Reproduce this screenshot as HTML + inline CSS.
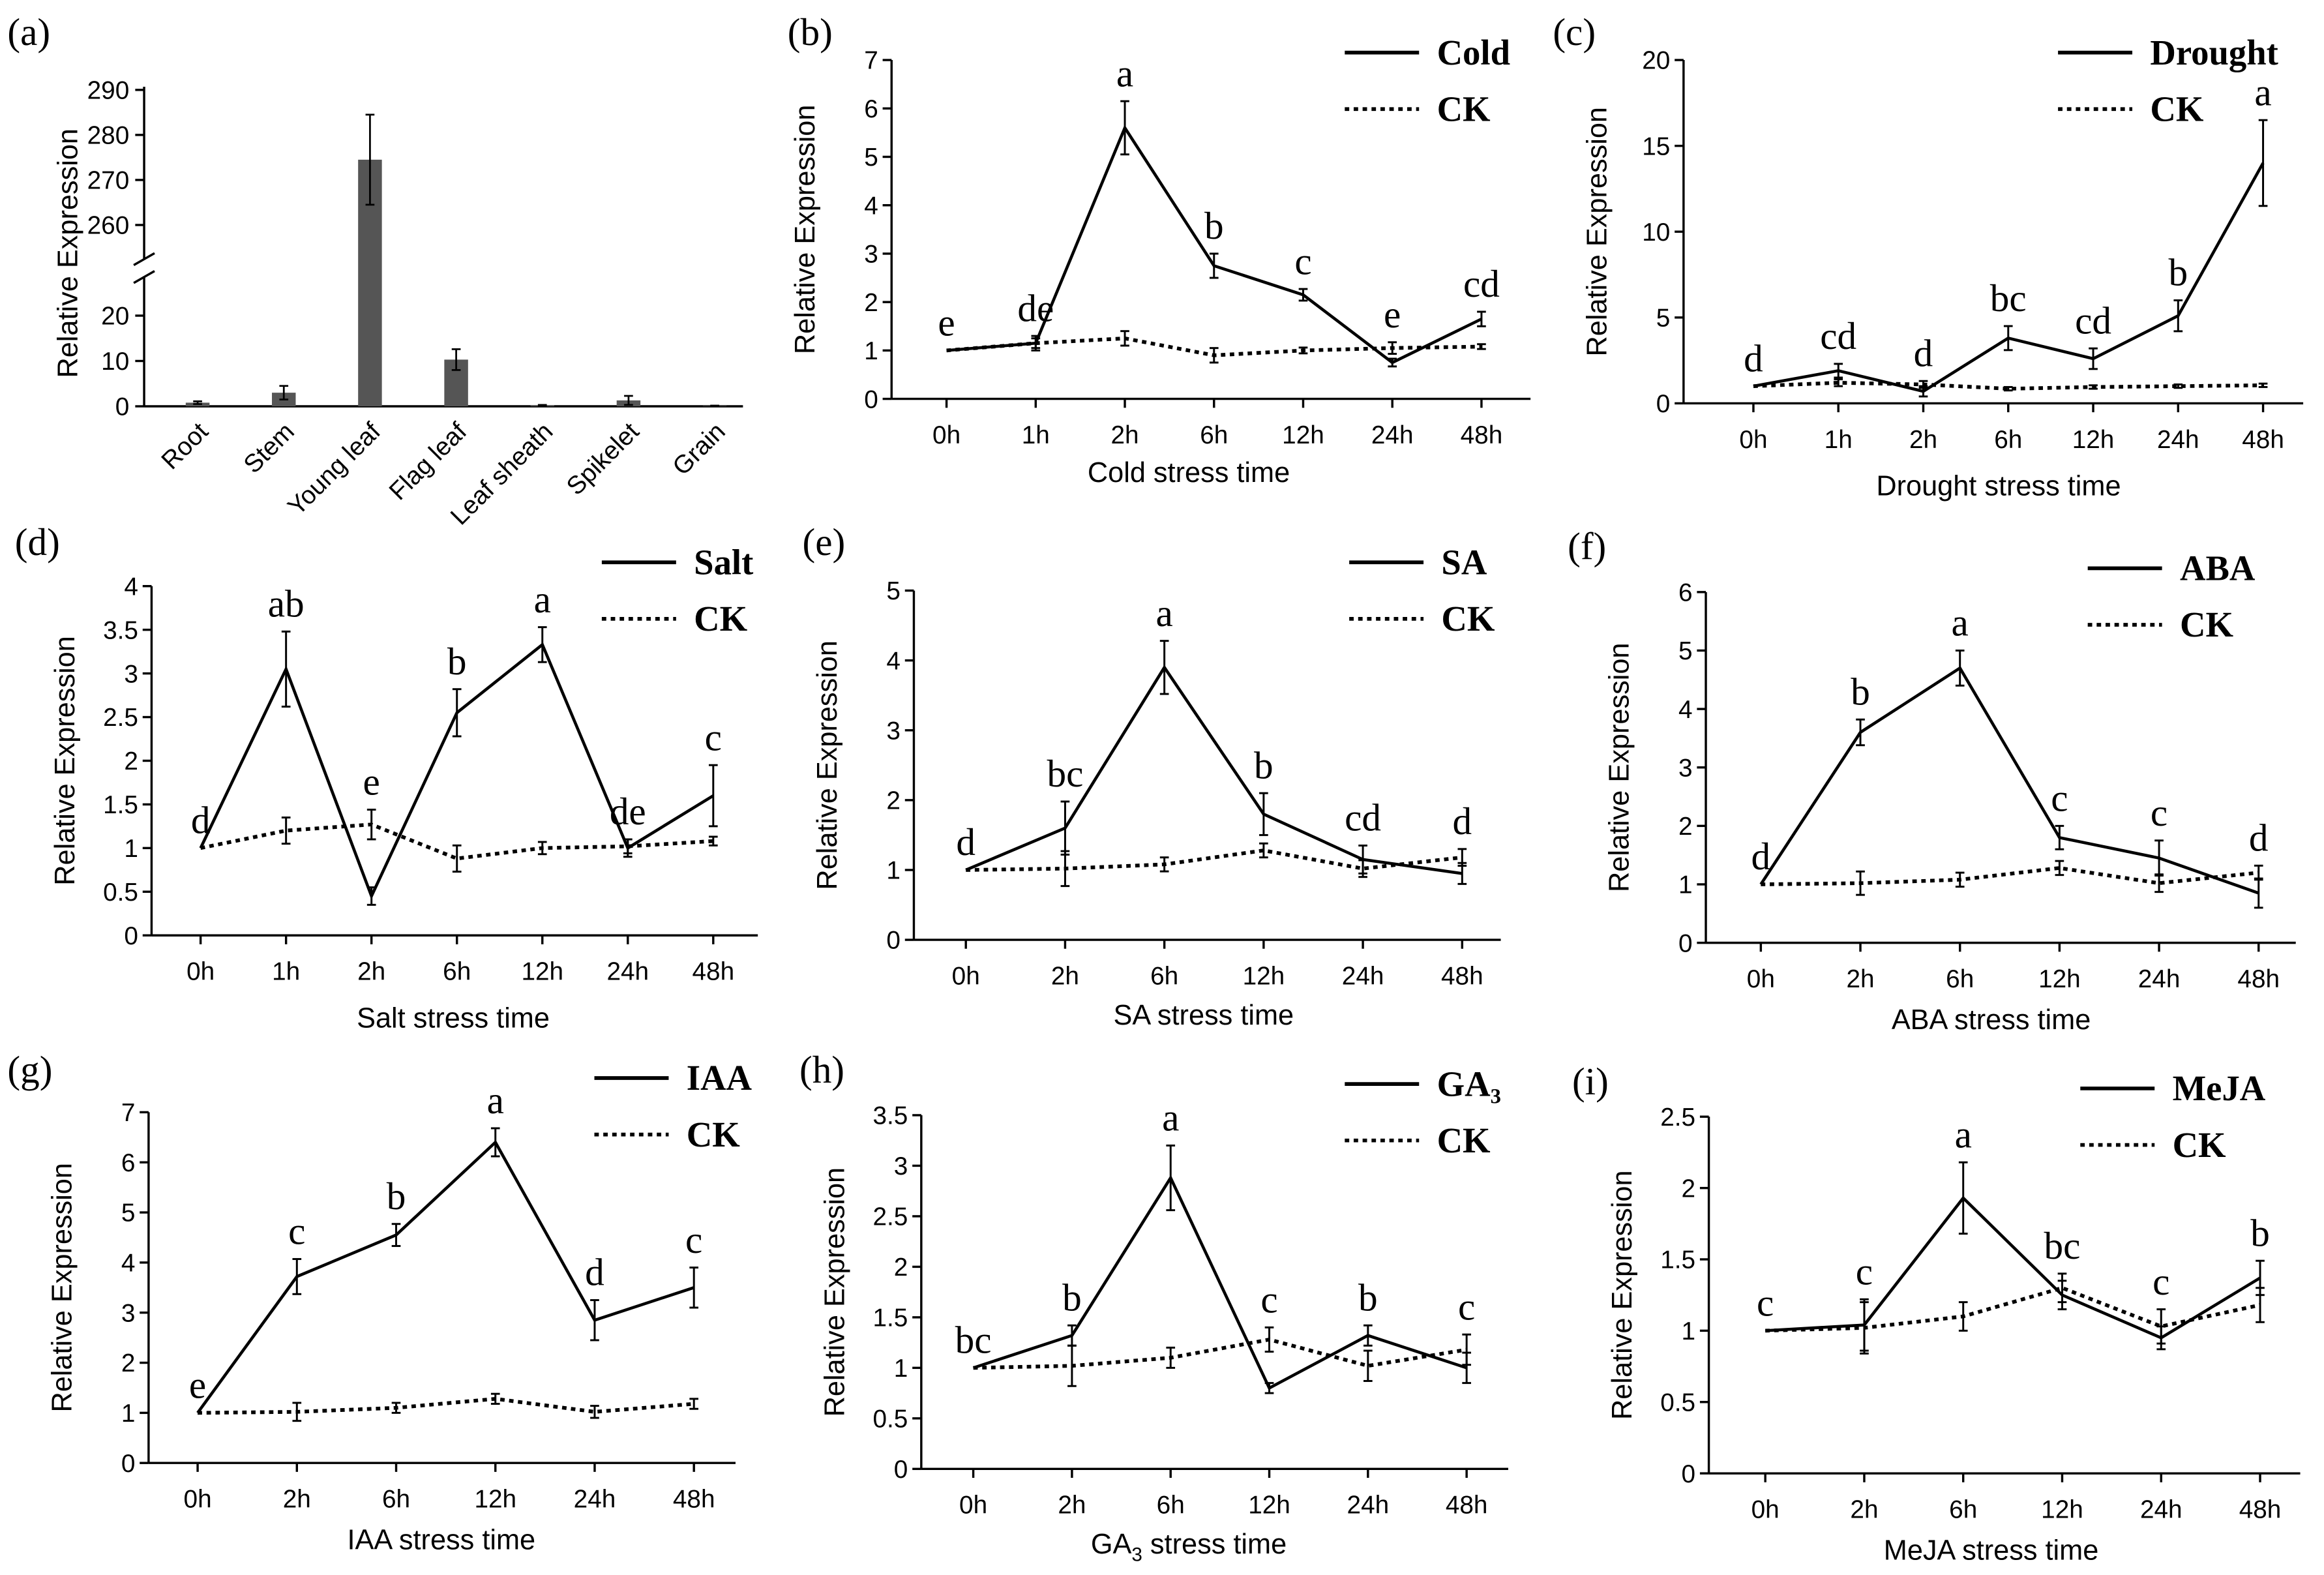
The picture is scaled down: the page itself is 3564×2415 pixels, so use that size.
<!DOCTYPE html>
<html><head><meta charset="utf-8"><style>
html,body{margin:0;padding:0;background:#fff}
svg{display:block}
text{fill:#000}
.tk{font-family:"Liberation Sans",sans-serif;font-size:17px}
.yt{font-family:"Liberation Sans",sans-serif;font-size:19px}
.lt{font-family:"Liberation Serif",serif;font-size:26px}
.pl{font-family:"Liberation Serif",serif;font-size:26px}
.lg{font-family:"Liberation Serif",serif;font-size:24px;font-weight:bold}
</style></head><body>
<svg id="fig" xmlns="http://www.w3.org/2000/svg" width="3564" height="2415" viewBox="0 0 1564 1059"></svg>
<script>
// ---- Panel (a) data ----
const tissueCats = ["Root","Stem","Young leaf","Flag leaf","Leaf sheath","Spikelet","Grain"];
const tissueVals = [0.8,3.0,274.5,10.3,0.2,1.3,0.1];
const tissueErr = [0.3,1.5,10,2.3,0.1,1.0,0.05];
// ---- Cold ----
const coldCats = ["0h","1h","2h","6h","12h","24h","48h"];
const coldTreat = [1,1.15,5.6,2.75,2.15,0.75,1.65];
const coldTreatErr = [0,0.1,0.55,0.25,0.12,0.08,0.15];
const coldCK = [1,1.15,1.25,0.9,1.0,1.05,1.08];
const coldCKErr = [0,0.15,0.15,0.15,0.06,0.12,0.05];
const coldLetters = ["e","de","a","b","c","e","cd"];
const coldTicks = [0,1,2,3,4,5,6,7];
// ---- Drought ----
const droughtCats = ["0h","1h","2h","6h","12h","24h","48h"];
const droughtTreat = [1,1.9,0.7,3.8,2.6,5.1,14];
const droughtTreatErr = [0,0.4,0.3,0.7,0.6,0.9,2.5];
const droughtCK = [1,1.2,1.1,0.85,0.95,1.0,1.05];
const droughtCKErr = [0,0.2,0.2,0.1,0.1,0.1,0.1];
const droughtLetters = ["d","cd","d","bc","cd","b","a"];
const droughtTicks = [0,5,10,15,20];
// ---- Salt ----
const saltCats = ["0h","1h","2h","6h","12h","24h","48h"];
const saltTreat = [1,3.05,0.45,2.55,3.33,1.0,1.6];
const saltTreatErr = [0,0.43,0.1,0.27,0.2,0.1,0.35];
const saltCK = [1,1.2,1.27,0.88,1.0,1.02,1.08];
const saltCKErr = [0,0.15,0.17,0.15,0.07,0.08,0.05];
const saltLetters = ["d","ab","e","b","a","de","c"];
const saltTicks = [0,0.5,1,1.5,2,2.5,3,3.5,4];
// ---- SA ----
const saCats = ["0h","2h","6h","12h","24h","48h"];
const saTreat = [1,1.6,3.9,1.8,1.15,0.95];
const saTreatErr = [0,0.38,0.38,0.3,0.2,0.15];
const saCK = [1,1.02,1.08,1.28,1.02,1.18];
const saCKErr = [0,0.25,0.1,0.1,0.12,0.12];
const saLetters = ["d","bc","a","b","cd","d"];
const saTicks = [0,1,2,3,4,5];
// ---- ABA ----
const abaCats = ["0h","2h","6h","12h","24h","48h"];
const abaTreat = [1,3.6,4.7,1.8,1.45,0.85];
const abaTreatErr = [0,0.22,0.3,0.2,0.3,0.25];
const abaCK = [1,1.02,1.08,1.28,1.02,1.2];
const abaCKErr = [0,0.2,0.12,0.12,0.15,0.12];
const abaLetters = ["d","b","a","c","c","d"];
const abaTicks = [0,1,2,3,4,5,6];
// ---- IAA ----
const iaaCats = ["0h","2h","6h","12h","24h","48h"];
const iaaTreat = [1,3.72,4.55,6.4,2.85,3.5];
const iaaTreatErr = [0,0.35,0.22,0.28,0.4,0.4];
const iaaCK = [1,1.02,1.1,1.28,1.02,1.18];
const iaaCKErr = [0,0.18,0.1,0.1,0.12,0.1];
const iaaLetters = ["e","c","b","a","d","c"];
const iaaTicks = [0,1,2,3,4,5,6,7];
// ---- GA3 ----
const gaCats = ["0h","2h","6h","12h","24h","48h"];
const gaTreat = [1,1.32,2.88,0.8,1.32,1.0];
const gaTreatErr = [0,0.1,0.32,0.05,0.1,0.15];
const gaCK = [1,1.02,1.1,1.28,1.02,1.18];
const gaCKErr = [0,0.2,0.1,0.12,0.15,0.15];
const gaLetters = ["bc","b","a","c","b","c"];
const gaTicks = [0,0.5,1,1.5,2,2.5,3,3.5];
// ---- MeJA ----
const mejaCats = ["0h","2h","6h","12h","24h","48h"];
const mejaTreat = [1,1.04,1.93,1.25,0.95,1.37];
const mejaTreatErr = [0,0.18,0.25,0.1,0.08,0.12];
const mejaCK = [1,1.02,1.1,1.3,1.03,1.18];
const mejaCKErr = [0,0.18,0.1,0.1,0.12,0.12];
const mejaLetters = ["c","c","a","bc","c","b"];
const mejaTicks = [0,0.5,1,1.5,2,2.5];

const svg = document.getElementById('fig');
const NS = "http://www.w3.org/2000/svg";
function mk(tag, attrs, parent, txt){
  const e = document.createElementNS(NS, tag);
  for (const k in attrs) e.setAttribute(k, attrs[k]);
  if (txt !== undefined) e.textContent = txt;
  (parent||svg).appendChild(e);
  return e;
}
function line(g,x1,y1,x2,y2,extra){
  const l = mk('line',Object.assign({x1,y1,x2,y2,stroke:'#000','stroke-width':1.5},extra||{}),g);
  return l;
}

// ---- Panel (a) ----
(function(){
  const g = mk('g',{});
  
  
  const lab = mk('text',{x:5,y:30,class:'pl'},g,'(a)');
   
  const ax0 = 97, ax1 = 500, y0 = 273;
  const lowScale = v => y0 - v*3.05;             // 0..20 -> 273..212
  const hiScale = v => 151 - (v-260)*3.03;        // 260..290 -> 151..60
  const ys = v => v <= 25 ? lowScale(v) : hiScale(v);
  const yaxis = mk('g',{},g);
   
  line(yaxis,ax0,y0,ax0,186); line(yaxis,ax0,174,ax0,58);
  line(yaxis,ax0-7,190,ax0+7,182); line(yaxis,ax0-7,178,ax0+7,170);
  [0,10,20].forEach(v=>{line(yaxis,ax0-6,lowScale(v),ax0,lowScale(v));
    mk('text',{x:ax0-10,y:lowScale(v)+6,class:'tk','text-anchor':'end'},yaxis,String(v));});
  [260,270,280,290].forEach(v=>{line(yaxis,ax0-6,hiScale(v),ax0,hiScale(v));
    mk('text',{x:ax0-10,y:hiScale(v)+6,class:'tk','text-anchor':'end'},yaxis,String(v));});
  const xa = line(g,ax0,y0,ax1,y0);
   
  const yt = mk('text',{x:0,y:0,class:'yt','text-anchor':'middle',transform:'translate(52,170) rotate(-90)'},g,'Relative Expression');
   
  const step = 58, first = 133;
  tissueCats.forEach((c,i)=>{
    const cx = first + i*step;
    const top = ys(tissueVals[i]);
    const b = mk('rect',{x:cx-8,y:top,width:16,height:y0-top,fill:'#555'},g);
    
    
    const et = ys(tissueVals[i]+tissueErr[i]), eb = ys(Math.max(0,tissueVals[i]-tissueErr[i]));
    line(g,cx,et,cx,eb,{'stroke-width':1.2}); line(g,cx-3,et,cx+3,et,{'stroke-width':1.2}); line(g,cx-3,eb,cx+3,eb,{'stroke-width':1.2});
    const t = mk('text',{x:0,y:0,class:'tk','text-anchor':'end',transform:`translate(${cx+8},${y0+18}) rotate(-45)`},g,c);
     
  });
})();

function linePanel(o){
  const g = mk('g',{});
  
  
  const lab = mk('text',{x:o.lx,y:o.ly,class:'pl'},g,'('+o.id+')');
   
  const tmax = o.ticks[o.ticks.length-1];
  const ys = v => o.y0 - (v/tmax)*(o.y0-o.yTop);
  const xs = i => o.x0h + i*(o.x48-o.x0h)/(o.cats.length-1);
  const ya = mk('g',{},g);
   
  line(ya,o.ax,o.y0,o.ax,o.yTop);
  o.ticks.forEach(v=>{line(ya,o.ax-6,ys(v),o.ax,ys(v));
    mk('text',{x:o.ax-9,y:ys(v)+6,class:'tk','text-anchor':'end'},ya,String(v));});
  const xa = mk('g',{},g);
   
  line(xa,o.ax,o.y0,o.ax1,o.y0);
  o.cats.forEach((c,i)=>{line(xa,xs(i),o.y0,xs(i),o.y0+6);
    mk('text',{x:xs(i),y:o.y0+30,class:'tk','text-anchor':'middle'},xa,c);});
  const xt = mk('text',{x:o.xtx,y:o.xty,class:'yt','text-anchor':'middle'},g,o.xtitle);
   
  if (o.sub){ xt.textContent=''; mk('tspan',{},xt,'GA'); mk('tspan',{'font-size':'13','dy':'5'},xt,'3'); mk('tspan',{'dy':'-5'},xt,' stress time'); }
  const yt = mk('text',{x:0,y:0,class:'yt','text-anchor':'middle',transform:`translate(${o.ax-52},${(o.y0+o.yTop)/2}) rotate(-90)`},g,'Relative Expression');
   
  // CK series
  const ckPts = o.ck.map((v,i)=>xs(i)+','+ys(v)).join(' ');
  const ckl = mk('polyline',{points:ckPts,fill:'none',stroke:'#000','stroke-width':2.5,'stroke-dasharray':'3,3'},g);
   
  const trl = mk('polyline',{points:o.treat.map((v,i)=>xs(i)+','+ys(v)).join(' '),fill:'none',stroke:'#000','stroke-width':2},g);
   
  function err(vals,errs,nm){
    vals.forEach((v,i)=>{ if(!errs[i]) return;
      const x=xs(i), t=ys(v+errs[i]), b=ys(v-errs[i]);
      const eg = mk('g',{},g);
       
      line(eg,x,t,x,b,{'stroke-width':1.3}); line(eg,x-3,t,x+3,t,{'stroke-width':1.3}); line(eg,x-3,b,x+3,b,{'stroke-width':1.3});
    });
  }
  err(o.ck,o.ckErr,'ck-error-bar'); err(o.treat,o.treatErr,'treatment-error-bar');
  o.letters.forEach((L,i)=>{
    const top = Math.max(o.treat[i]+o.treatErr[i], o.ck[i]+o.ckErr[i]);
    const t = mk('text',{x:xs(i),y:ys(top)-10,class:'lt','text-anchor':'middle'},g,L);
     
  });
  const lg = mk('g',{},g);
   
  line(lg,o.lgx,o.lgy,o.lgx+50,o.lgy,{'stroke-width':2.5});
  mk('text',{x:o.lgx+62,y:o.lgy+8,class:'lg'},lg,o.name);
  line(lg,o.lgx,o.lgy+38,o.lgx+50,o.lgy+38,{'stroke-width':2.5,'stroke-dasharray':'3,3'});
  mk('text',{x:o.lgx+62,y:o.lgy+46,class:'lg'},lg,'CK');
}

linePanel({id:'b',lx:530,ly:30,ax:600,ax1:1030,y0:268,yTop:40,x0h:637,x48:997,cats:coldCats,treat:coldTreat,treatErr:coldTreatErr,ck:coldCK,ckErr:coldCKErr,letters:coldLetters,ticks:coldTicks,xtitle:'Cold stress time',xtx:800,xty:324,lgx:905,lgy:35,name:'Cold'});
linePanel({id:'c',lx:1045,ly:30,ax:1133,ax1:1550,y0:271,yTop:40,x0h:1180,x48:1523,cats:droughtCats,treat:droughtTreat,treatErr:droughtTreatErr,ck:droughtCK,ckErr:droughtCKErr,letters:droughtLetters,ticks:droughtTicks,xtitle:'Drought stress time',xtx:1345,xty:333,lgx:1385,lgy:35,name:'Drought'});
linePanel({id:'d',lx:10,ly:373,ax:102,ax1:510,y0:629,yTop:394,x0h:135,x48:480,cats:saltCats,treat:saltTreat,treatErr:saltTreatErr,ck:saltCK,ckErr:saltCKErr,letters:saltLetters,ticks:saltTicks,xtitle:'Salt stress time',xtx:305,xty:691,lgx:405,lgy:378,name:'Salt'});
linePanel({id:'e',lx:540,ly:373,ax:615,ax1:1010,y0:632,yTop:397,x0h:650,x48:984,cats:saCats,treat:saTreat,treatErr:saTreatErr,ck:saCK,ckErr:saCKErr,letters:saLetters,ticks:saTicks,xtitle:'SA stress time',xtx:810,xty:689,lgx:908,lgy:378,name:'SA'});
linePanel({id:'f',lx:1055,ly:376,ax:1148,ax1:1545,y0:634,yTop:398,x0h:1185,x48:1520,cats:abaCats,treat:abaTreat,treatErr:abaTreatErr,ck:abaCK,ckErr:abaCKErr,letters:abaLetters,ticks:abaTicks,xtitle:'ABA stress time',xtx:1340,xty:692,lgx:1405,lgy:382,name:'ABA'});
linePanel({id:'g',lx:5,ly:728,ax:100,ax1:495,y0:984,yTop:748,x0h:133,x48:467,cats:iaaCats,treat:iaaTreat,treatErr:iaaTreatErr,ck:iaaCK,ckErr:iaaCKErr,letters:iaaLetters,ticks:iaaTicks,xtitle:'IAA stress time',xtx:297,xty:1042,lgx:400,lgy:725,name:'IAA'});
linePanel({id:'h',lx:538,ly:728,ax:620,ax1:1015,y0:988,yTop:750,x0h:655,x48:987,cats:gaCats,treat:gaTreat,treatErr:gaTreatErr,ck:gaCK,ckErr:gaCKErr,letters:gaLetters,ticks:gaTicks,xtitle:'GA3 stress time',sub:true,xtx:800,xty:1045,lgx:905,lgy:729,name:'GA₃'});
linePanel({id:'i',lx:1058,ly:736,ax:1150,ax1:1548,y0:991,yTop:751,x0h:1188,x48:1521,cats:mejaCats,treat:mejaTreat,treatErr:mejaTreatErr,ck:mejaCK,ckErr:mejaCKErr,letters:mejaLetters,ticks:mejaTicks,xtitle:'MeJA stress time',xtx:1340,xty:1049,lgx:1400,lgy:732,name:'MeJA'});
</script>
</body></html>
